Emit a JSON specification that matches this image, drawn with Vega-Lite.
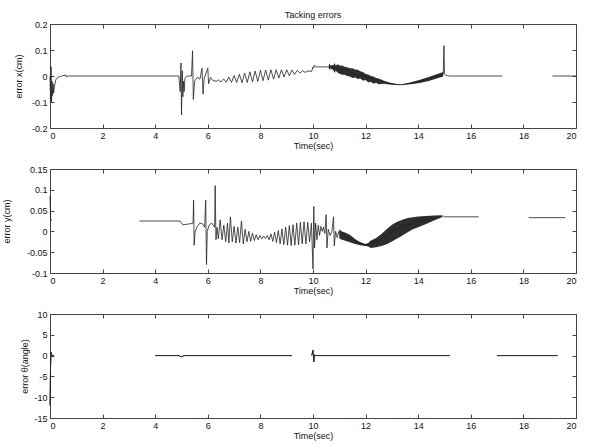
{
"$schema": "https://vega.github.io/schema/vega-lite/v6.json",
"padding": {"left": 1, "top": 10, "right": 10, "bottom": 5},
"background": "white",
"spacing": 41,
"bounds": "flush",
"config": {
  "font": "Liberation Sans",
  "view": {"stroke": "#444", "strokeWidth": 1},
  "axis": {"labelFontSize": 9, "titleFontSize": 9, "titleFontWeight": "normal", "tickSize": -4, "tickColor": "#444", "domain": false, "grid": false, "labelColor": "#111", "titleColor": "#111", "labelPadding": 7},
  "title": {"fontSize": 9, "fontWeight": "normal", "color": "#111"}
},
"datasets": {
  "ex": [
    {"t":0,"v":0,"s":1},{"t":0.02,"v":-0.09,"s":1},{"t":0.04,"v":0.035,"s":1},{"t":0.06,"v":-0.1,"s":1},{"t":0.08,"v":-0.02,"s":1},{"t":0.1,"v":-0.075,"s":1},{"t":0.12,"v":-0.03,"s":1},{"t":0.14,"v":-0.065,"s":1},{"t":0.17,"v":-0.04,"s":1},{"t":0.22,"v":-0.015,"s":1},{"t":0.3,"v":-0.005,"s":1},{"t":0.45,"v":0,"s":1},{"t":0.6,"v":0.004,"s":1},{"t":0.62,"v":-0.004,"s":1},{"t":0.65,"v":0,"s":1},{"t":3,"v":0,"s":1},{"t":4.9,"v":0,"s":1},
    {"t":4.95,"v":-0.06,"s":1},{"t":4.98,"v":0.05,"s":1},{"t":5.0,"v":-0.15,"s":1},{"t":5.03,"v":0.02,"s":1},{"t":5.05,"v":-0.08,"s":1},{"t":5.08,"v":-0.02,"s":1},{"t":5.1,"v":-0.06,"s":1},{"t":5.13,"v":-0.01,"s":1},{"t":5.2,"v":0,"s":1},{"t":5.38,"v":0,"s":1},{"t":5.42,"v":0.097,"s":1},{"t":5.45,"v":-0.09,"s":1},{"t":5.5,"v":-0.02,"s":1},{"t":5.6,"v":-0.005,"s":1},{"t":5.7,"v":-0.012,"s":1},{"t":5.78,"v":0.03,"s":1},{"t":5.82,"v":-0.07,"s":1},{"t":5.86,"v":-0.01,"s":1},{"t":6.0,"v":0.03,"s":1},{"t":6.03,"v":-0.03,"s":1},{"t":6.1,"v":-0.005,"s":1},{"t":6.2,"v":-0.018,"s":1},{"t":6.35,"v":-0.02,"s":1},
    {"t":6.4,"v":-0.015,"s":1},{"t":6.5,"v":-0.023,"s":1},{"t":6.6,"v":-0.011,"s":1},{"t":6.7,"v":-0.024,"s":1},{"t":6.8,"v":-0.004,"s":1},{"t":6.9,"v":-0.025,"s":1},{"t":7.0,"v":0.002,"s":1},{"t":7.1,"v":-0.025,"s":1},{"t":7.2,"v":0.007,"s":1},{"t":7.3,"v":-0.026,"s":1},{"t":7.4,"v":0.011,"s":1},{"t":7.5,"v":-0.025,"s":1},{"t":7.6,"v":0.016,"s":1},{"t":7.7,"v":-0.023,"s":1},{"t":7.8,"v":0.019,"s":1},{"t":7.9,"v":-0.021,"s":1},{"t":8.0,"v":0.022,"s":1},{"t":8.1,"v":-0.018,"s":1},{"t":8.2,"v":0.023,"s":1},{"t":8.3,"v":-0.016,"s":1},{"t":8.4,"v":0.024,"s":1},{"t":8.5,"v":-0.012,"s":1},{"t":8.6,"v":0.024,"s":1},{"t":8.7,"v":-0.008,"s":1},{"t":8.8,"v":0.024,"s":1},{"t":8.9,"v":-0.004,"s":1},{"t":9.0,"v":0.024,"s":1},{"t":9.1,"v":0.001,"s":1},{"t":9.2,"v":0.023,"s":1},{"t":9.3,"v":0.006,"s":1},{"t":9.4,"v":0.022,"s":1},{"t":9.5,"v":0.011,"s":1},{"t":9.6,"v":0.02,"s":1},{"t":9.7,"v":0.014,"s":1},{"t":9.8,"v":0.019,"s":1},{"t":9.95,"v":0.018,"s":1},
    {"t":10.0,"v":0.035,"s":1},{"t":10.02,"v":0.03,"s":1},{"t":10.05,"v":0.042,"s":1},{"t":10.1,"v":0.035,"s":1},{"t":10.6,"v":0.035,"s":1},{"t":11.0,"v":0.025,"s":1},{"t":11.5,"v":0.012,"s":1},{"t":12.0,"v":-0.003,"s":1},{"t":12.5,"v":-0.02,"s":1},{"t":13.0,"v":-0.03,"s":1},{"t":13.3,"v":-0.034,"s":1},{"t":13.8,"v":-0.027,"s":1},{"t":14.4,"v":-0.012,"s":1},{"t":14.95,"v":0.006,"s":1},{"t":14.98,"v":0.117,"s":1},{"t":15.0,"v":0.01,"s":1},{"t":15.05,"v":0.002,"s":1},{"t":15.2,"v":0,"s":1},{"t":17.2,"v":0,"s":1},
    {"t":19.1,"v":0,"s":2},{"t":20,"v":0,"s":2}
  ],
  "exb": [
    {"t":10.6,"lo":0.03,"hi":0.042},{"t":10.63,"lo":0.022,"hi":0.048},{"t":10.66,"lo":0.03,"hi":0.04},{"t":10.78,"lo":0.022,"hi":0.042},{"t":10.82,"lo":0.012,"hi":0.05},{"t":10.86,"lo":0.02,"hi":0.04},{"t":10.95,"lo":0.012,"hi":0.045},{"t":11.0,"lo":0.01,"hi":0.04},{"t":11.1,"lo":0.005,"hi":0.04},{"t":11.2,"lo":0.005,"hi":0.036},{"t":11.3,"lo":0.0,"hi":0.034},{"t":11.4,"lo":-0.002,"hi":0.03},{"t":11.5,"lo":-0.008,"hi":0.03},{"t":11.6,"lo":-0.006,"hi":0.025},{"t":11.7,"lo":-0.012,"hi":0.024},{"t":11.8,"lo":-0.01,"hi":0.018},{"t":11.9,"lo":-0.018,"hi":0.015},{"t":12.0,"lo":-0.015,"hi":0.008},{"t":12.1,"lo":-0.025,"hi":0.006},{"t":12.2,"lo":-0.022,"hi":0.0},{"t":12.3,"lo":-0.03,"hi":-0.002},{"t":12.4,"lo":-0.026,"hi":-0.008},{"t":12.5,"lo":-0.032,"hi":-0.01},{"t":12.7,"lo":-0.03,"hi":-0.018},{"t":12.9,"lo":-0.033,"hi":-0.025},{"t":13.1,"lo":-0.035,"hi":-0.03},{"t":13.3,"lo":-0.035,"hi":-0.033},{"t":13.5,"lo":-0.034,"hi":-0.03},{"t":13.8,"lo":-0.031,"hi":-0.022},{"t":14.1,"lo":-0.026,"hi":-0.013},{"t":14.4,"lo":-0.019,"hi":-0.004},{"t":14.7,"lo":-0.01,"hi":0.007},{"t":14.95,"lo":-0.002,"hi":0.015}
  ],
  "ey": [
    {"t":0,"v":0.085,"s":1},{"t":0.02,"v":0.03,"s":1},{"t":0.06,"v":0.025,"s":1},
    {"t":3.4,"v":0.025,"s":2},{"t":4.95,"v":0.025,"s":2},{"t":5.0,"v":0.02,"s":2},{"t":5.05,"v":0.016,"s":2},{"t":5.3,"v":0.018,"s":2},{"t":5.44,"v":0.02,"s":2},{"t":5.46,"v":0.075,"s":2},{"t":5.48,"v":-0.033,"s":2},{"t":5.52,"v":0.0,"s":2},{"t":5.6,"v":0.012,"s":2},{"t":5.7,"v":0.02,"s":2},{"t":5.8,"v":0.018,"s":2},{"t":5.88,"v":0.01,"s":2},{"t":5.92,"v":0.075,"s":2},{"t":5.95,"v":-0.08,"s":2},{"t":5.98,"v":0.0,"s":2},{"t":6.05,"v":0.015,"s":2},{"t":6.15,"v":0.02,"s":2},{"t":6.26,"v":0.01,"s":2},{"t":6.28,"v":0.11,"s":2},{"t":6.31,"v":-0.02,"s":2},{"t":6.35,"v":0.01,"s":2},
    {"t":6.4,"v":-0.018,"s":2},{"t":6.47,"v":0.028,"s":2},{"t":6.54,"v":-0.02,"s":2},{"t":6.61,"v":0.015,"s":2},{"t":6.68,"v":-0.025,"s":2},{"t":6.75,"v":0.02,"s":2},{"t":6.8,"v":-0.028,"s":2},{"t":6.86,"v":0.035,"s":2},{"t":6.93,"v":-0.025,"s":2},{"t":7.0,"v":0.012,"s":2},{"t":7.07,"v":-0.028,"s":2},{"t":7.14,"v":0.01,"s":2},{"t":7.21,"v":-0.027,"s":2},{"t":7.28,"v":0.025,"s":2},{"t":7.35,"v":-0.03,"s":2},{"t":7.42,"v":0.005,"s":2},{"t":7.49,"v":-0.025,"s":2},{"t":7.56,"v":0.0,"s":2},{"t":7.63,"v":-0.024,"s":2},{"t":7.7,"v":-0.004,"s":2},{"t":7.77,"v":-0.022,"s":2},{"t":7.84,"v":-0.008,"s":2},{"t":7.91,"v":-0.02,"s":2},{"t":7.98,"v":-0.01,"s":2},{"t":8.05,"v":-0.018,"s":2},{"t":8.12,"v":-0.011,"s":2},{"t":8.19,"v":-0.017,"s":2},{"t":8.26,"v":-0.01,"s":2},{"t":8.33,"v":-0.02,"s":2},{"t":8.4,"v":-0.006,"s":2},{"t":8.47,"v":-0.024,"s":2},{"t":8.54,"v":-0.002,"s":2},{"t":8.61,"v":-0.027,"s":2},{"t":8.68,"v":0.002,"s":2},{"t":8.75,"v":-0.03,"s":2},{"t":8.82,"v":0.006,"s":2},{"t":8.89,"v":-0.032,"s":2},{"t":8.96,"v":0.01,"s":2},{"t":9.03,"v":-0.033,"s":2},{"t":9.1,"v":0.014,"s":2},{"t":9.17,"v":-0.034,"s":2},{"t":9.24,"v":0.016,"s":2},{"t":9.31,"v":-0.033,"s":2},{"t":9.38,"v":0.02,"s":2},{"t":9.45,"v":-0.032,"s":2},{"t":9.52,"v":0.022,"s":2},{"t":9.59,"v":-0.03,"s":2},{"t":9.66,"v":0.023,"s":2},{"t":9.73,"v":-0.03,"s":2},{"t":9.8,"v":0.022,"s":2},{"t":9.87,"v":-0.025,"s":2},{"t":9.94,"v":0.02,"s":2},
    {"t":10.0,"v":-0.09,"s":2},{"t":10.03,"v":0.06,"s":2},{"t":10.06,"v":-0.04,"s":2},{"t":10.1,"v":0.02,"s":2},{"t":10.15,"v":-0.02,"s":2},{"t":10.2,"v":0.015,"s":2},{"t":10.25,"v":-0.01,"s":2},{"t":10.3,"v":0.012,"s":2},{"t":10.35,"v":0.0,"s":2},{"t":10.4,"v":0.01,"s":2},{"t":10.45,"v":-0.005,"s":2},{"t":10.5,"v":0.04,"s":2},{"t":10.53,"v":-0.04,"s":2},{"t":10.58,"v":0.005,"s":2},{"t":10.65,"v":-0.01,"s":2},{"t":10.72,"v":0.0,"s":2},{"t":10.78,"v":0.035,"s":2},{"t":10.81,"v":-0.035,"s":2},{"t":10.86,"v":0.0,"s":2},{"t":10.92,"v":-0.015,"s":2},{"t":10.98,"v":0.0,"s":2},
    {"t":11.0,"v":-0.006,"s":2},{"t":11.5,"v":-0.02,"s":2},{"t":12.0,"v":-0.033,"s":2},{"t":12.5,"v":-0.022,"s":2},{"t":13.0,"v":-0.002,"s":2},{"t":13.5,"v":0.014,"s":2},{"t":14.0,"v":0.024,"s":2},{"t":14.5,"v":0.031,"s":2},{"t":14.95,"v":0.037,"s":2},{"t":15.0,"v":0.035,"s":2},{"t":16.3,"v":0.035,"s":2},
    {"t":18.2,"v":0.033,"s":3},{"t":19.6,"v":0.033,"s":3}
  ],
  "eyb": [
    {"t":11.0,"lo":-0.017,"hi":0.005},{"t":11.1,"lo":-0.02,"hi":0.0},{"t":11.2,"lo":-0.022,"hi":-0.002},{"t":11.4,"lo":-0.026,"hi":-0.008},{"t":11.6,"lo":-0.03,"hi":-0.018},{"t":11.8,"lo":-0.033,"hi":-0.026},{"t":12.0,"lo":-0.035,"hi":-0.03},{"t":12.1,"lo":-0.036,"hi":-0.028},{"t":12.2,"lo":-0.04,"hi":-0.022},{"t":12.4,"lo":-0.038,"hi":-0.016},{"t":12.6,"lo":-0.035,"hi":-0.006},{"t":12.8,"lo":-0.031,"hi":0.005},{"t":13.0,"lo":-0.024,"hi":0.016},{"t":13.2,"lo":-0.017,"hi":0.023},{"t":13.4,"lo":-0.01,"hi":0.028},{"t":13.6,"lo":-0.002,"hi":0.032},{"t":13.8,"lo":0.005,"hi":0.034},{"t":14.0,"lo":0.01,"hi":0.036},{"t":14.3,"lo":0.018,"hi":0.037},{"t":14.6,"lo":0.026,"hi":0.038},{"t":14.9,"lo":0.034,"hi":0.039}
  ],
  "et": [
    {"t":0,"v":-12,"s":1},{"t":0.02,"v":-3,"s":1},{"t":0.04,"v":0.8,"s":1},{"t":0.08,"v":0,"s":1},{"t":0.15,"v":0,"s":1},
    {"t":4.0,"v":0,"s":2},{"t":4.9,"v":0,"s":2},{"t":5.0,"v":-0.3,"s":2},{"t":5.1,"v":0,"s":2},{"t":9.2,"v":0,"s":2},
    {"t":9.95,"v":0,"s":3},{"t":10.0,"v":1.3,"s":3},{"t":10.03,"v":-1.5,"s":3},{"t":10.06,"v":0.2,"s":3},{"t":10.1,"v":0,"s":3},{"t":15.2,"v":0,"s":3},
    {"t":17.0,"v":0,"s":4},{"t":19.3,"v":0,"s":4}
  ]
},
"vconcat": [
  {
    "width": 526, "height": 104,
    "title": {"text": "Tacking errors", "offset": 0},
    "resolve": {"axis": {"x": "independent", "y": "independent"}},
    "layer": [
      {
        "data": {"name": "exb"},
        "mark": {"type": "area", "color": "#222", "opacity": 0.95},
        "encoding": {
          "x": {"field": "t", "type": "quantitative", "scale": {"domain": [0, 20], "nice": false}, "axis": {"orient": "top", "labels": false, "title": null, "values": [0,2,4,6,8,10,12,14,16,18,20]}},
          "y": {"field": "lo", "type": "quantitative", "scale": {"domain": [-0.2, 0.2], "nice": false}, "axis": {"orient": "right", "labels": false, "title": null, "values": [-0.2,-0.1,0,0.1,0.2]}},
          "y2": {"field": "hi"}
        }
      },
      {
        "data": {"name": "ex"},
        "mark": {"type": "line", "color": "#222", "strokeWidth": 0.8},
        "encoding": {
          "x": {"field": "t", "type": "quantitative", "scale": {"domain": [0, 20], "nice": false}, "axis": {"orient": "bottom", "title": "Time(sec)", "titlePadding": 1, "values": [0,2,4,6,8,10,12,14,16,18,20]}},
          "y": {"field": "v", "type": "quantitative", "scale": {"domain": [-0.2, 0.2], "nice": false}, "axis": {"orient": "left", "title": "error x(cm)", "titleX": -27, "titleY": 52, "values": [-0.2,-0.1,0,0.1,0.2], "labelExpr": "toString(datum.value)"}},
          "detail": {"field": "s"}
        }
      }
    ]
  },
  {
    "width": 526, "height": 104,
    "resolve": {"axis": {"x": "independent", "y": "independent"}},
    "layer": [
      {
        "data": {"name": "eyb"},
        "mark": {"type": "area", "color": "#222", "opacity": 0.95},
        "encoding": {
          "x": {"field": "t", "type": "quantitative", "scale": {"domain": [0, 20], "nice": false}, "axis": {"orient": "top", "labels": false, "title": null, "values": [0,2,4,6,8,10,12,14,16,18,20]}},
          "y": {"field": "lo", "type": "quantitative", "scale": {"domain": [-0.1, 0.15], "nice": false}, "axis": {"orient": "right", "labels": false, "title": null, "values": [-0.1,-0.05,0,0.05,0.1,0.15]}},
          "y2": {"field": "hi"}
        }
      },
      {
        "data": {"name": "ey"},
        "mark": {"type": "line", "color": "#222", "strokeWidth": 0.8},
        "encoding": {
          "x": {"field": "t", "type": "quantitative", "scale": {"domain": [0, 20], "nice": false}, "axis": {"orient": "bottom", "title": "Time(sec)", "titlePadding": 1, "values": [0,2,4,6,8,10,12,14,16,18,20]}},
          "y": {"field": "v", "type": "quantitative", "scale": {"domain": [-0.1, 0.15], "nice": false}, "axis": {"orient": "left", "title": "error y(cm)", "titleX": -39, "titleY": 52, "values": [-0.1,-0.05,0,0.05,0.1,0.15], "labelExpr": "toString(datum.value)"}},
          "detail": {"field": "s"}
        }
      }
    ]
  },
  {
    "width": 526, "height": 104,
    "resolve": {"axis": {"x": "independent", "y": "independent"}},
    "layer": [
      {
        "data": {"name": "et"},
        "mark": {"type": "line", "color": "#222", "strokeWidth": 0.8},
        "encoding": {
          "x": {"field": "t", "type": "quantitative", "scale": {"domain": [0, 20], "nice": false}, "axis": {"orient": "top", "labels": false, "title": null, "values": [0,2,4,6,8,10,12,14,16,18,20]}},
          "y": {"field": "v", "type": "quantitative", "scale": {"domain": [-15, 10], "nice": false}, "axis": {"orient": "right", "labels": false, "title": null, "values": [-15,-10,-5,0,5,10]}},
          "detail": {"field": "s"}
        }
      },
      {
        "data": {"name": "et"},
        "mark": {"type": "line", "color": "#222", "strokeWidth": 0.8},
        "encoding": {
          "x": {"field": "t", "type": "quantitative", "scale": {"domain": [0, 20], "nice": false}, "axis": {"orient": "bottom", "title": "Time(sec)", "titlePadding": 1, "values": [0,2,4,6,8,10,12,14,16,18,20]}},
          "y": {"field": "v", "type": "quantitative", "scale": {"domain": [-15, 10], "nice": false}, "axis": {"orient": "left", "title": "error θ(angle)", "titleX": -21, "titleY": 52, "values": [-15,-10,-5,0,5,10], "labelExpr": "toString(datum.value)"}},
          "detail": {"field": "s"}
        }
      }
    ]
  }
]
}
